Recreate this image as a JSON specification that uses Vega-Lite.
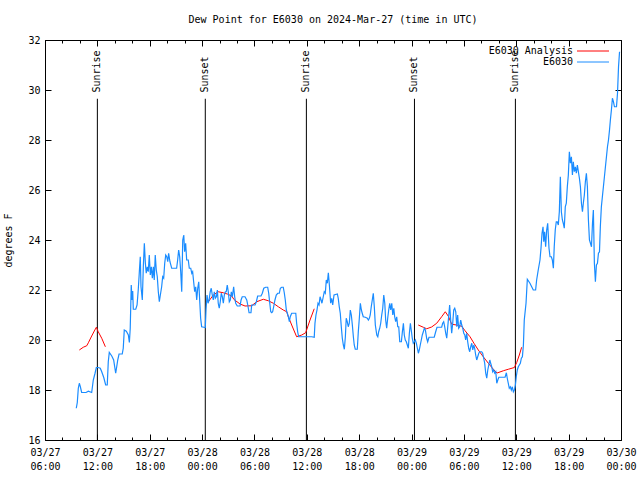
{
"$schema": "https://vega.github.io/schema/vega-lite/v6.json",
"width": 576, "height": 400,
"autosize": {"type": "none"},
"padding": {"left": 45, "top": 40, "right": 19, "bottom": 40},
"background": "white",
"title": {"text": "Dew Point for E6030 on 2024-Mar-27 (time in UTC)", "font": "DejaVu Sans Mono", "fontSize": 10, "fontWeight": "normal", "offset": 10, "anchor": "middle", "color": "black"},
"config": {
  "view": {"stroke": "black", "strokeWidth": 1},
  "font": "DejaVu Sans Mono",
  "axis": {"domain": false, "grid": false, "tickColor": "black", "labelColor": "black", "labelFont": "DejaVu Sans Mono", "labelFontSize": 10, "titleFont": "DejaVu Sans Mono", "titleFontSize": 10, "titleFontWeight": "normal", "titleColor": "black", "labelOverlap": false, "labelFlush": false},
  "legend": {"orient": "top-right", "offset": 6, "padding": 0, "symbolType": "M-4,0H4M5,0", "symbolSize": 64, "symbolStrokeWidth": 1, "labelFont": "DejaVu Sans Mono", "labelFontSize": 10, "labelColor": "black", "labelAlign": "right", "labelOffset": -25, "rowPadding": 1}
},
"datasets": {
"analysis": [
{"t":"2024-03-27T09:56:00Z","v":19.6,"s":"E6030 Analysis","seg":1},
{"t":"2024-03-27T10:23:00Z","v":19.71,"s":"E6030 Analysis","seg":1},
{"t":"2024-03-27T10:47:00Z","v":19.77,"s":"E6030 Analysis","seg":1},
{"t":"2024-03-27T10:58:00Z","v":19.89,"s":"E6030 Analysis","seg":1},
{"t":"2024-03-27T11:21:00Z","v":20.16,"s":"E6030 Analysis","seg":1},
{"t":"2024-03-27T11:39:00Z","v":20.36,"s":"E6030 Analysis","seg":1},
{"t":"2024-03-27T11:53:00Z","v":20.51,"s":"E6030 Analysis","seg":1},
{"t":"2024-03-27T12:06:00Z","v":20.33,"s":"E6030 Analysis","seg":1},
{"t":"2024-03-27T12:30:00Z","v":20.07,"s":"E6030 Analysis","seg":1},
{"t":"2024-03-27T12:55:00Z","v":19.73,"s":"E6030 Analysis","seg":1},
{"t":"2024-03-28T00:43:00Z","v":21.53,"s":"E6030 Analysis","seg":2},
{"t":"2024-03-28T01:17:00Z","v":21.8,"s":"E6030 Analysis","seg":2},
{"t":"2024-03-28T01:51:00Z","v":21.93,"s":"E6030 Analysis","seg":2},
{"t":"2024-03-28T02:26:00Z","v":21.89,"s":"E6030 Analysis","seg":2},
{"t":"2024-03-28T02:53:00Z","v":21.84,"s":"E6030 Analysis","seg":2},
{"t":"2024-03-28T03:24:00Z","v":21.76,"s":"E6030 Analysis","seg":2},
{"t":"2024-03-28T03:39:00Z","v":21.62,"s":"E6030 Analysis","seg":2},
{"t":"2024-03-28T04:21:00Z","v":21.44,"s":"E6030 Analysis","seg":2},
{"t":"2024-03-28T04:55:00Z","v":21.36,"s":"E6030 Analysis","seg":2},
{"t":"2024-03-28T05:41:00Z","v":21.37,"s":"E6030 Analysis","seg":2},
{"t":"2024-03-28T06:15:00Z","v":21.53,"s":"E6030 Analysis","seg":2},
{"t":"2024-03-28T07:01:00Z","v":21.63,"s":"E6030 Analysis","seg":2},
{"t":"2024-03-28T07:35:00Z","v":21.57,"s":"E6030 Analysis","seg":2},
{"t":"2024-03-28T08:10:00Z","v":21.47,"s":"E6030 Analysis","seg":2},
{"t":"2024-03-28T08:44:00Z","v":21.33,"s":"E6030 Analysis","seg":2},
{"t":"2024-03-28T09:18:00Z","v":21.2,"s":"E6030 Analysis","seg":2},
{"t":"2024-03-28T09:42:00Z","v":21.13,"s":"E6030 Analysis","seg":2},
{"t":"2024-03-28T09:53:00Z","v":20.93,"s":"E6030 Analysis","seg":2},
{"t":"2024-03-28T10:16:00Z","v":20.6,"s":"E6030 Analysis","seg":2},
{"t":"2024-03-28T10:50:00Z","v":20.13,"s":"E6030 Analysis","seg":2},
{"t":"2024-03-28T11:25:00Z","v":20.2,"s":"E6030 Analysis","seg":2},
{"t":"2024-03-28T11:52:00Z","v":20.29,"s":"E6030 Analysis","seg":2},
{"t":"2024-03-28T12:22:00Z","v":20.8,"s":"E6030 Analysis","seg":2},
{"t":"2024-03-28T12:51:00Z","v":21.25,"s":"E6030 Analysis","seg":2},
{"t":"2024-03-29T00:46:00Z","v":20.6,"s":"E6030 Analysis","seg":3},
{"t":"2024-03-29T01:21:00Z","v":20.51,"s":"E6030 Analysis","seg":3},
{"t":"2024-03-29T01:44:00Z","v":20.45,"s":"E6030 Analysis","seg":3},
{"t":"2024-03-29T02:18:00Z","v":20.52,"s":"E6030 Analysis","seg":3},
{"t":"2024-03-29T02:53:00Z","v":20.67,"s":"E6030 Analysis","seg":3},
{"t":"2024-03-29T03:27:00Z","v":20.93,"s":"E6030 Analysis","seg":3},
{"t":"2024-03-29T03:52:00Z","v":21.13,"s":"E6030 Analysis","seg":3},
{"t":"2024-03-29T04:13:00Z","v":20.95,"s":"E6030 Analysis","seg":3},
{"t":"2024-03-29T04:36:00Z","v":20.63,"s":"E6030 Analysis","seg":3},
{"t":"2024-03-29T05:10:00Z","v":20.6,"s":"E6030 Analysis","seg":3},
{"t":"2024-03-29T05:45:00Z","v":20.55,"s":"E6030 Analysis","seg":3},
{"t":"2024-03-29T06:08:00Z","v":20.37,"s":"E6030 Analysis","seg":3},
{"t":"2024-03-29T06:42:00Z","v":20.13,"s":"E6030 Analysis","seg":3},
{"t":"2024-03-29T07:09:00Z","v":19.87,"s":"E6030 Analysis","seg":3},
{"t":"2024-03-29T07:39:00Z","v":19.6,"s":"E6030 Analysis","seg":3},
{"t":"2024-03-29T08:13:00Z","v":19.33,"s":"E6030 Analysis","seg":3},
{"t":"2024-03-29T08:48:00Z","v":19.07,"s":"E6030 Analysis","seg":3},
{"t":"2024-03-29T09:22:00Z","v":18.83,"s":"E6030 Analysis","seg":3},
{"t":"2024-03-29T09:48:00Z","v":18.68,"s":"E6030 Analysis","seg":3},
{"t":"2024-03-29T10:31:00Z","v":18.77,"s":"E6030 Analysis","seg":3},
{"t":"2024-03-29T11:05:00Z","v":18.83,"s":"E6030 Analysis","seg":3},
{"t":"2024-03-29T11:47:00Z","v":18.9,"s":"E6030 Analysis","seg":3},
{"t":"2024-03-29T12:03:00Z","v":19.1,"s":"E6030 Analysis","seg":3},
{"t":"2024-03-29T12:21:00Z","v":19.4,"s":"E6030 Analysis","seg":3},
{"t":"2024-03-29T12:37:00Z","v":19.71,"s":"E6030 Analysis","seg":3}
],
"obs": [
{"t":"2024-03-27T09:35:00Z","v":17.27,"s":"E6030"},
{"t":"2024-03-27T09:42:00Z","v":17.5,"s":"E6030"},
{"t":"2024-03-27T09:49:00Z","v":18.07,"s":"E6030"},
{"t":"2024-03-27T09:56:00Z","v":18.27,"s":"E6030"},
{"t":"2024-03-27T10:03:00Z","v":18.13,"s":"E6030"},
{"t":"2024-03-27T10:12:00Z","v":17.9,"s":"E6030"},
{"t":"2024-03-27T10:42:00Z","v":17.9,"s":"E6030"},
{"t":"2024-03-27T10:58:00Z","v":17.95,"s":"E6030"},
{"t":"2024-03-27T11:21:00Z","v":17.9,"s":"E6030"},
{"t":"2024-03-27T11:32:00Z","v":18.4,"s":"E6030"},
{"t":"2024-03-27T11:44:00Z","v":18.67,"s":"E6030"},
{"t":"2024-03-27T11:53:00Z","v":18.9,"s":"E6030"},
{"t":"2024-03-27T12:06:00Z","v":18.9,"s":"E6030"},
{"t":"2024-03-27T12:20:00Z","v":18.87,"s":"E6030"},
{"t":"2024-03-27T12:30:00Z","v":18.73,"s":"E6030"},
{"t":"2024-03-27T12:44:00Z","v":18.5,"s":"E6030"},
{"t":"2024-03-27T12:57:00Z","v":18.2,"s":"E6030"},
{"t":"2024-03-27T13:08:00Z","v":18.2,"s":"E6030"},
{"t":"2024-03-27T13:15:00Z","v":19.13,"s":"E6030"},
{"t":"2024-03-27T13:22:00Z","v":19.5,"s":"E6030"},
{"t":"2024-03-27T13:39:00Z","v":19.36,"s":"E6030"},
{"t":"2024-03-27T13:52:00Z","v":19.2,"s":"E6030"},
{"t":"2024-03-27T14:06:00Z","v":18.67,"s":"E6030"},
{"t":"2024-03-27T14:13:00Z","v":18.93,"s":"E6030"},
{"t":"2024-03-27T14:20:00Z","v":19.2,"s":"E6030"},
{"t":"2024-03-27T14:29:00Z","v":19.44,"s":"E6030"},
{"t":"2024-03-27T14:51:00Z","v":19.44,"s":"E6030"},
{"t":"2024-03-27T14:58:00Z","v":19.67,"s":"E6030"},
{"t":"2024-03-27T15:05:00Z","v":20.4,"s":"E6030"},
{"t":"2024-03-27T15:19:00Z","v":20.35,"s":"E6030"},
{"t":"2024-03-27T15:33:00Z","v":20.2,"s":"E6030"},
{"t":"2024-03-27T15:40:00Z","v":19.9,"s":"E6030"},
{"t":"2024-03-27T15:46:00Z","v":20.47,"s":"E6030"},
{"t":"2024-03-27T15:53:00Z","v":22.2,"s":"E6030"},
{"t":"2024-03-27T15:58:00Z","v":21.6,"s":"E6030"},
{"t":"2024-03-27T16:03:00Z","v":21.96,"s":"E6030"},
{"t":"2024-03-27T16:07:00Z","v":21.23,"s":"E6030"},
{"t":"2024-03-27T16:24:00Z","v":21.23,"s":"E6030"},
{"t":"2024-03-27T16:33:00Z","v":21.4,"s":"E6030"},
{"t":"2024-03-27T16:41:00Z","v":22.0,"s":"E6030"},
{"t":"2024-03-27T16:48:00Z","v":22.67,"s":"E6030"},
{"t":"2024-03-27T16:55:00Z","v":23.33,"s":"E6030"},
{"t":"2024-03-27T17:00:00Z","v":22.13,"s":"E6030"},
{"t":"2024-03-27T17:09:00Z","v":21.6,"s":"E6030"},
{"t":"2024-03-27T17:16:00Z","v":22.93,"s":"E6030"},
{"t":"2024-03-27T17:23:00Z","v":23.87,"s":"E6030"},
{"t":"2024-03-27T17:30:00Z","v":23.07,"s":"E6030"},
{"t":"2024-03-27T17:36:00Z","v":22.67,"s":"E6030"},
{"t":"2024-03-27T17:43:00Z","v":22.93,"s":"E6030"},
{"t":"2024-03-27T17:50:00Z","v":22.73,"s":"E6030"},
{"t":"2024-03-27T17:57:00Z","v":23.4,"s":"E6030"},
{"t":"2024-03-27T18:04:00Z","v":22.6,"s":"E6030"},
{"t":"2024-03-27T18:11:00Z","v":22.93,"s":"E6030"},
{"t":"2024-03-27T18:18:00Z","v":22.47,"s":"E6030"},
{"t":"2024-03-27T18:25:00Z","v":22.93,"s":"E6030"},
{"t":"2024-03-27T18:31:00Z","v":22.4,"s":"E6030"},
{"t":"2024-03-27T18:38:00Z","v":23.4,"s":"E6030"},
{"t":"2024-03-27T18:45:00Z","v":22.8,"s":"E6030"},
{"t":"2024-03-27T18:52:00Z","v":22.53,"s":"E6030"},
{"t":"2024-03-27T18:59:00Z","v":21.93,"s":"E6030"},
{"t":"2024-03-27T19:06:00Z","v":21.53,"s":"E6030"},
{"t":"2024-03-27T19:13:00Z","v":21.8,"s":"E6030"},
{"t":"2024-03-27T19:22:00Z","v":22.13,"s":"E6030"},
{"t":"2024-03-27T19:29:00Z","v":22.53,"s":"E6030"},
{"t":"2024-03-27T19:36:00Z","v":22.47,"s":"E6030"},
{"t":"2024-03-27T19:43:00Z","v":23.07,"s":"E6030"},
{"t":"2024-03-27T19:50:00Z","v":23.4,"s":"E6030"},
{"t":"2024-03-27T19:57:00Z","v":23.33,"s":"E6030"},
{"t":"2024-03-27T20:04:00Z","v":23.13,"s":"E6030"},
{"t":"2024-03-27T20:10:00Z","v":23.47,"s":"E6030"},
{"t":"2024-03-27T20:19:00Z","v":23.13,"s":"E6030"},
{"t":"2024-03-27T20:31:00Z","v":22.87,"s":"E6030"},
{"t":"2024-03-27T21:05:00Z","v":22.87,"s":"E6030"},
{"t":"2024-03-27T21:12:00Z","v":23.2,"s":"E6030"},
{"t":"2024-03-27T21:19:00Z","v":23.6,"s":"E6030"},
{"t":"2024-03-27T21:26:00Z","v":23.33,"s":"E6030"},
{"t":"2024-03-27T21:33:00Z","v":22.73,"s":"E6030"},
{"t":"2024-03-27T21:40:00Z","v":21.93,"s":"E6030"},
{"t":"2024-03-27T21:47:00Z","v":24.0,"s":"E6030"},
{"t":"2024-03-27T21:54:00Z","v":24.2,"s":"E6030"},
{"t":"2024-03-27T22:00:00Z","v":23.53,"s":"E6030"},
{"t":"2024-03-27T22:07:00Z","v":23.87,"s":"E6030"},
{"t":"2024-03-27T22:14:00Z","v":23.2,"s":"E6030"},
{"t":"2024-03-27T22:25:00Z","v":23.2,"s":"E6030"},
{"t":"2024-03-27T22:32:00Z","v":22.87,"s":"E6030"},
{"t":"2024-03-27T22:42:00Z","v":22.87,"s":"E6030"},
{"t":"2024-03-27T22:49:00Z","v":22.67,"s":"E6030"},
{"t":"2024-03-27T22:55:00Z","v":22.73,"s":"E6030"},
{"t":"2024-03-27T23:02:00Z","v":22.33,"s":"E6030"},
{"t":"2024-03-27T23:09:00Z","v":21.93,"s":"E6030"},
{"t":"2024-03-27T23:16:00Z","v":22.13,"s":"E6030"},
{"t":"2024-03-27T23:23:00Z","v":21.6,"s":"E6030"},
{"t":"2024-03-27T23:30:00Z","v":22.07,"s":"E6030"},
{"t":"2024-03-27T23:37:00Z","v":22.33,"s":"E6030"},
{"t":"2024-03-27T23:44:00Z","v":21.53,"s":"E6030"},
{"t":"2024-03-27T23:50:00Z","v":20.87,"s":"E6030"},
{"t":"2024-03-27T23:57:00Z","v":20.53,"s":"E6030"},
{"t":"2024-03-28T00:13:00Z","v":20.51,"s":"E6030"},
{"t":"2024-03-28T00:22:00Z","v":20.5,"s":"E6030"},
{"t":"2024-03-28T00:27:00Z","v":21.2,"s":"E6030"},
{"t":"2024-03-28T00:34:00Z","v":21.8,"s":"E6030"},
{"t":"2024-03-28T00:41:00Z","v":21.47,"s":"E6030"},
{"t":"2024-03-28T00:48:00Z","v":21.6,"s":"E6030"},
{"t":"2024-03-28T00:56:00Z","v":21.93,"s":"E6030"},
{"t":"2024-03-28T01:03:00Z","v":22.07,"s":"E6030"},
{"t":"2024-03-28T01:10:00Z","v":21.8,"s":"E6030"},
{"t":"2024-03-28T01:17:00Z","v":21.6,"s":"E6030"},
{"t":"2024-03-28T01:24:00Z","v":21.93,"s":"E6030"},
{"t":"2024-03-28T01:31:00Z","v":21.67,"s":"E6030"},
{"t":"2024-03-28T01:38:00Z","v":21.73,"s":"E6030"},
{"t":"2024-03-28T01:45:00Z","v":22.0,"s":"E6030"},
{"t":"2024-03-28T01:51:00Z","v":21.47,"s":"E6030"},
{"t":"2024-03-28T01:58:00Z","v":21.27,"s":"E6030"},
{"t":"2024-03-28T02:05:00Z","v":21.53,"s":"E6030"},
{"t":"2024-03-28T02:12:00Z","v":21.87,"s":"E6030"},
{"t":"2024-03-28T02:19:00Z","v":21.73,"s":"E6030"},
{"t":"2024-03-28T02:26:00Z","v":21.47,"s":"E6030"},
{"t":"2024-03-28T02:33:00Z","v":21.8,"s":"E6030"},
{"t":"2024-03-28T02:40:00Z","v":21.93,"s":"E6030"},
{"t":"2024-03-28T02:46:00Z","v":21.93,"s":"E6030"},
{"t":"2024-03-28T02:53:00Z","v":22.2,"s":"E6030"},
{"t":"2024-03-28T03:00:00Z","v":21.93,"s":"E6030"},
{"t":"2024-03-28T03:07:00Z","v":21.53,"s":"E6030"},
{"t":"2024-03-28T03:14:00Z","v":21.6,"s":"E6030"},
{"t":"2024-03-28T03:21:00Z","v":21.93,"s":"E6030"},
{"t":"2024-03-28T03:28:00Z","v":21.73,"s":"E6030"},
{"t":"2024-03-28T03:37:00Z","v":22.13,"s":"E6030"},
{"t":"2024-03-28T03:44:00Z","v":21.73,"s":"E6030"},
{"t":"2024-03-28T03:51:00Z","v":21.47,"s":"E6030"},
{"t":"2024-03-28T04:02:00Z","v":21.36,"s":"E6030"},
{"t":"2024-03-28T04:21:00Z","v":21.36,"s":"E6030"},
{"t":"2024-03-28T04:28:00Z","v":21.6,"s":"E6030"},
{"t":"2024-03-28T04:36:00Z","v":21.73,"s":"E6030"},
{"t":"2024-03-28T04:55:00Z","v":21.73,"s":"E6030"},
{"t":"2024-03-28T05:07:00Z","v":21.6,"s":"E6030"},
{"t":"2024-03-28T05:14:00Z","v":21.4,"s":"E6030"},
{"t":"2024-03-28T05:23:00Z","v":21.09,"s":"E6030"},
{"t":"2024-03-28T05:36:00Z","v":21.09,"s":"E6030"},
{"t":"2024-03-28T05:41:00Z","v":21.4,"s":"E6030"},
{"t":"2024-03-28T06:04:00Z","v":21.4,"s":"E6030"},
{"t":"2024-03-28T06:13:00Z","v":21.53,"s":"E6030"},
{"t":"2024-03-28T06:22:00Z","v":21.76,"s":"E6030"},
{"t":"2024-03-28T06:45:00Z","v":21.76,"s":"E6030"},
{"t":"2024-03-28T06:54:00Z","v":21.87,"s":"E6030"},
{"t":"2024-03-28T07:04:00Z","v":22.07,"s":"E6030"},
{"t":"2024-03-28T07:17:00Z","v":22.11,"s":"E6030"},
{"t":"2024-03-28T07:31:00Z","v":22.11,"s":"E6030"},
{"t":"2024-03-28T07:38:00Z","v":21.87,"s":"E6030"},
{"t":"2024-03-28T07:45:00Z","v":21.49,"s":"E6030"},
{"t":"2024-03-28T07:52:00Z","v":21.13,"s":"E6030"},
{"t":"2024-03-28T07:59:00Z","v":21.09,"s":"E6030"},
{"t":"2024-03-28T08:05:00Z","v":21.13,"s":"E6030"},
{"t":"2024-03-28T08:12:00Z","v":21.33,"s":"E6030"},
{"t":"2024-03-28T08:21:00Z","v":21.6,"s":"E6030"},
{"t":"2024-03-28T08:30:00Z","v":21.8,"s":"E6030"},
{"t":"2024-03-28T08:40:00Z","v":21.87,"s":"E6030"},
{"t":"2024-03-28T08:51:00Z","v":21.87,"s":"E6030"},
{"t":"2024-03-28T08:58:00Z","v":22.07,"s":"E6030"},
{"t":"2024-03-28T09:07:00Z","v":22.11,"s":"E6030"},
{"t":"2024-03-28T09:18:00Z","v":22.11,"s":"E6030"},
{"t":"2024-03-28T09:25:00Z","v":21.89,"s":"E6030"},
{"t":"2024-03-28T09:32:00Z","v":21.6,"s":"E6030"},
{"t":"2024-03-28T09:39:00Z","v":21.2,"s":"E6030"},
{"t":"2024-03-28T09:46:00Z","v":21.07,"s":"E6030"},
{"t":"2024-03-28T09:53:00Z","v":20.93,"s":"E6030"},
{"t":"2024-03-28T10:00:00Z","v":20.73,"s":"E6030"},
{"t":"2024-03-28T10:06:00Z","v":20.93,"s":"E6030"},
{"t":"2024-03-28T10:16:00Z","v":21.07,"s":"E6030"},
{"t":"2024-03-28T10:44:00Z","v":21.07,"s":"E6030"},
{"t":"2024-03-28T10:50:00Z","v":20.67,"s":"E6030"},
{"t":"2024-03-28T10:57:00Z","v":20.33,"s":"E6030"},
{"t":"2024-03-28T11:04:00Z","v":20.13,"s":"E6030"},
{"t":"2024-03-28T12:34:00Z","v":20.13,"s":"E6030"},
{"t":"2024-03-28T12:51:00Z","v":20.11,"s":"E6030"},
{"t":"2024-03-28T12:56:00Z","v":20.67,"s":"E6030"},
{"t":"2024-03-28T13:03:00Z","v":21.0,"s":"E6030"},
{"t":"2024-03-28T13:10:00Z","v":21.2,"s":"E6030"},
{"t":"2024-03-28T13:17:00Z","v":21.47,"s":"E6030"},
{"t":"2024-03-28T13:24:00Z","v":21.4,"s":"E6030"},
{"t":"2024-03-28T13:31:00Z","v":21.73,"s":"E6030"},
{"t":"2024-03-28T13:38:00Z","v":21.6,"s":"E6030"},
{"t":"2024-03-28T13:44:00Z","v":21.47,"s":"E6030"},
{"t":"2024-03-28T13:51:00Z","v":21.67,"s":"E6030"},
{"t":"2024-03-28T14:00:00Z","v":21.93,"s":"E6030"},
{"t":"2024-03-28T14:07:00Z","v":21.87,"s":"E6030"},
{"t":"2024-03-28T14:14:00Z","v":22.4,"s":"E6030"},
{"t":"2024-03-28T14:21:00Z","v":22.27,"s":"E6030"},
{"t":"2024-03-28T14:28:00Z","v":22.69,"s":"E6030"},
{"t":"2024-03-28T14:35:00Z","v":22.2,"s":"E6030"},
{"t":"2024-03-28T14:44:00Z","v":21.47,"s":"E6030"},
{"t":"2024-03-28T14:51:00Z","v":21.67,"s":"E6030"},
{"t":"2024-03-28T14:58:00Z","v":21.4,"s":"E6030"},
{"t":"2024-03-28T15:07:00Z","v":21.8,"s":"E6030"},
{"t":"2024-03-28T15:30:00Z","v":21.84,"s":"E6030"},
{"t":"2024-03-28T15:36:00Z","v":21.67,"s":"E6030"},
{"t":"2024-03-28T15:43:00Z","v":21.33,"s":"E6030"},
{"t":"2024-03-28T15:50:00Z","v":21.07,"s":"E6030"},
{"t":"2024-03-28T15:57:00Z","v":20.53,"s":"E6030"},
{"t":"2024-03-28T16:04:00Z","v":20.07,"s":"E6030"},
{"t":"2024-03-28T16:11:00Z","v":19.8,"s":"E6030"},
{"t":"2024-03-28T16:18:00Z","v":19.63,"s":"E6030"},
{"t":"2024-03-28T16:25:00Z","v":20.13,"s":"E6030"},
{"t":"2024-03-28T16:31:00Z","v":20.87,"s":"E6030"},
{"t":"2024-03-28T16:38:00Z","v":20.73,"s":"E6030"},
{"t":"2024-03-28T16:45:00Z","v":20.53,"s":"E6030"},
{"t":"2024-03-28T16:52:00Z","v":20.67,"s":"E6030"},
{"t":"2024-03-28T16:59:00Z","v":21.2,"s":"E6030"},
{"t":"2024-03-28T17:06:00Z","v":21.0,"s":"E6030"},
{"t":"2024-03-28T17:13:00Z","v":20.6,"s":"E6030"},
{"t":"2024-03-28T17:20:00Z","v":20.13,"s":"E6030"},
{"t":"2024-03-28T17:26:00Z","v":19.8,"s":"E6030"},
{"t":"2024-03-28T17:33:00Z","v":19.63,"s":"E6030"},
{"t":"2024-03-28T17:47:00Z","v":19.63,"s":"E6030"},
{"t":"2024-03-28T17:54:00Z","v":20.33,"s":"E6030"},
{"t":"2024-03-28T18:01:00Z","v":20.87,"s":"E6030"},
{"t":"2024-03-28T18:08:00Z","v":21.47,"s":"E6030"},
{"t":"2024-03-28T18:15:00Z","v":21.2,"s":"E6030"},
{"t":"2024-03-28T18:21:00Z","v":21.07,"s":"E6030"},
{"t":"2024-03-28T18:28:00Z","v":20.93,"s":"E6030"},
{"t":"2024-03-28T18:42:00Z","v":20.91,"s":"E6030"},
{"t":"2024-03-28T18:56:00Z","v":20.87,"s":"E6030"},
{"t":"2024-03-28T19:03:00Z","v":20.8,"s":"E6030"},
{"t":"2024-03-28T19:10:00Z","v":20.87,"s":"E6030"},
{"t":"2024-03-28T19:16:00Z","v":21.0,"s":"E6030"},
{"t":"2024-03-28T19:23:00Z","v":21.33,"s":"E6030"},
{"t":"2024-03-28T19:30:00Z","v":21.6,"s":"E6030"},
{"t":"2024-03-28T19:37:00Z","v":21.87,"s":"E6030"},
{"t":"2024-03-28T19:44:00Z","v":21.33,"s":"E6030"},
{"t":"2024-03-28T19:51:00Z","v":20.6,"s":"E6030"},
{"t":"2024-03-28T20:01:00Z","v":20.2,"s":"E6030"},
{"t":"2024-03-28T20:08:00Z","v":20.13,"s":"E6030"},
{"t":"2024-03-28T20:14:00Z","v":20.33,"s":"E6030"},
{"t":"2024-03-28T20:21:00Z","v":20.47,"s":"E6030"},
{"t":"2024-03-28T20:28:00Z","v":20.67,"s":"E6030"},
{"t":"2024-03-28T20:35:00Z","v":21.0,"s":"E6030"},
{"t":"2024-03-28T20:42:00Z","v":21.27,"s":"E6030"},
{"t":"2024-03-28T20:49:00Z","v":21.8,"s":"E6030"},
{"t":"2024-03-28T20:56:00Z","v":21.47,"s":"E6030"},
{"t":"2024-03-28T21:02:00Z","v":20.8,"s":"E6030"},
{"t":"2024-03-28T21:09:00Z","v":20.47,"s":"E6030"},
{"t":"2024-03-28T21:16:00Z","v":20.87,"s":"E6030"},
{"t":"2024-03-28T21:23:00Z","v":21.2,"s":"E6030"},
{"t":"2024-03-28T21:30:00Z","v":21.47,"s":"E6030"},
{"t":"2024-03-28T21:37:00Z","v":21.2,"s":"E6030"},
{"t":"2024-03-28T21:44:00Z","v":21.47,"s":"E6030"},
{"t":"2024-03-28T21:51:00Z","v":21.0,"s":"E6030"},
{"t":"2024-03-28T21:58:00Z","v":21.27,"s":"E6030"},
{"t":"2024-03-28T22:04:00Z","v":20.93,"s":"E6030"},
{"t":"2024-03-28T22:11:00Z","v":20.73,"s":"E6030"},
{"t":"2024-03-28T22:18:00Z","v":20.93,"s":"E6030"},
{"t":"2024-03-28T22:25:00Z","v":20.53,"s":"E6030"},
{"t":"2024-03-28T22:32:00Z","v":20.53,"s":"E6030"},
{"t":"2024-03-28T22:39:00Z","v":19.93,"s":"E6030"},
{"t":"2024-03-28T22:50:00Z","v":19.93,"s":"E6030"},
{"t":"2024-03-28T22:57:00Z","v":20.33,"s":"E6030"},
{"t":"2024-03-28T23:04:00Z","v":20.67,"s":"E6030"},
{"t":"2024-03-28T23:10:00Z","v":20.2,"s":"E6030"},
{"t":"2024-03-28T23:17:00Z","v":20.0,"s":"E6030"},
{"t":"2024-03-28T23:24:00Z","v":19.93,"s":"E6030"},
{"t":"2024-03-28T23:31:00Z","v":19.8,"s":"E6030"},
{"t":"2024-03-28T23:38:00Z","v":19.67,"s":"E6030"},
{"t":"2024-03-28T23:45:00Z","v":20.27,"s":"E6030"},
{"t":"2024-03-28T23:52:00Z","v":20.67,"s":"E6030"},
{"t":"2024-03-28T23:58:00Z","v":20.4,"s":"E6030"},
{"t":"2024-03-29T00:05:00Z","v":20.07,"s":"E6030"},
{"t":"2024-03-29T00:12:00Z","v":19.87,"s":"E6030"},
{"t":"2024-03-29T00:19:00Z","v":19.93,"s":"E6030"},
{"t":"2024-03-29T00:26:00Z","v":20.0,"s":"E6030"},
{"t":"2024-03-29T00:33:00Z","v":19.87,"s":"E6030"},
{"t":"2024-03-29T00:40:00Z","v":19.67,"s":"E6030"},
{"t":"2024-03-29T00:47:00Z","v":19.47,"s":"E6030"},
{"t":"2024-03-29T00:53:00Z","v":19.6,"s":"E6030"},
{"t":"2024-03-29T01:00:00Z","v":19.8,"s":"E6030"},
{"t":"2024-03-29T01:07:00Z","v":20.0,"s":"E6030"},
{"t":"2024-03-29T01:14:00Z","v":20.2,"s":"E6030"},
{"t":"2024-03-29T01:21:00Z","v":20.33,"s":"E6030"},
{"t":"2024-03-29T01:28:00Z","v":20.47,"s":"E6030"},
{"t":"2024-03-29T01:35:00Z","v":20.4,"s":"E6030"},
{"t":"2024-03-29T01:44:00Z","v":20.07,"s":"E6030"},
{"t":"2024-03-29T01:51:00Z","v":19.93,"s":"E6030"},
{"t":"2024-03-29T02:00:00Z","v":20.11,"s":"E6030"},
{"t":"2024-03-29T02:36:00Z","v":20.11,"s":"E6030"},
{"t":"2024-03-29T02:46:00Z","v":20.33,"s":"E6030"},
{"t":"2024-03-29T02:55:00Z","v":20.51,"s":"E6030"},
{"t":"2024-03-29T03:27:00Z","v":20.51,"s":"E6030"},
{"t":"2024-03-29T03:34:00Z","v":20.67,"s":"E6030"},
{"t":"2024-03-29T03:41:00Z","v":20.73,"s":"E6030"},
{"t":"2024-03-29T03:48:00Z","v":20.53,"s":"E6030"},
{"t":"2024-03-29T03:55:00Z","v":20.27,"s":"E6030"},
{"t":"2024-03-29T04:02:00Z","v":20.07,"s":"E6030"},
{"t":"2024-03-29T04:09:00Z","v":20.53,"s":"E6030"},
{"t":"2024-03-29T04:15:00Z","v":20.93,"s":"E6030"},
{"t":"2024-03-29T04:22:00Z","v":21.4,"s":"E6030"},
{"t":"2024-03-29T04:29:00Z","v":20.8,"s":"E6030"},
{"t":"2024-03-29T04:36:00Z","v":20.27,"s":"E6030"},
{"t":"2024-03-29T04:43:00Z","v":20.67,"s":"E6030"},
{"t":"2024-03-29T04:50:00Z","v":21.2,"s":"E6030"},
{"t":"2024-03-29T04:57:00Z","v":21.27,"s":"E6030"},
{"t":"2024-03-29T05:04:00Z","v":21.13,"s":"E6030"},
{"t":"2024-03-29T05:11:00Z","v":20.53,"s":"E6030"},
{"t":"2024-03-29T05:17:00Z","v":21.0,"s":"E6030"},
{"t":"2024-03-29T05:24:00Z","v":20.47,"s":"E6030"},
{"t":"2024-03-29T05:31:00Z","v":20.53,"s":"E6030"},
{"t":"2024-03-29T05:38:00Z","v":20.8,"s":"E6030"},
{"t":"2024-03-29T05:45:00Z","v":20.6,"s":"E6030"},
{"t":"2024-03-29T05:52:00Z","v":20.47,"s":"E6030"},
{"t":"2024-03-29T05:59:00Z","v":20.27,"s":"E6030"},
{"t":"2024-03-29T06:06:00Z","v":20.2,"s":"E6030"},
{"t":"2024-03-29T06:12:00Z","v":20.0,"s":"E6030"},
{"t":"2024-03-29T06:19:00Z","v":20.27,"s":"E6030"},
{"t":"2024-03-29T06:26:00Z","v":19.93,"s":"E6030"},
{"t":"2024-03-29T06:33:00Z","v":19.67,"s":"E6030"},
{"t":"2024-03-29T06:40:00Z","v":19.53,"s":"E6030"},
{"t":"2024-03-29T06:47:00Z","v":19.73,"s":"E6030"},
{"t":"2024-03-29T06:54:00Z","v":19.87,"s":"E6030"},
{"t":"2024-03-29T07:01:00Z","v":19.6,"s":"E6030"},
{"t":"2024-03-29T07:08:00Z","v":19.8,"s":"E6030"},
{"t":"2024-03-29T07:14:00Z","v":19.67,"s":"E6030"},
{"t":"2024-03-29T07:21:00Z","v":19.4,"s":"E6030"},
{"t":"2024-03-29T07:28:00Z","v":19.2,"s":"E6030"},
{"t":"2024-03-29T07:35:00Z","v":19.33,"s":"E6030"},
{"t":"2024-03-29T07:42:00Z","v":19.47,"s":"E6030"},
{"t":"2024-03-29T07:49:00Z","v":19.53,"s":"E6030"},
{"t":"2024-03-29T08:02:00Z","v":19.53,"s":"E6030"},
{"t":"2024-03-29T08:09:00Z","v":19.47,"s":"E6030"},
{"t":"2024-03-29T08:16:00Z","v":19.27,"s":"E6030"},
{"t":"2024-03-29T08:23:00Z","v":19.07,"s":"E6030"},
{"t":"2024-03-29T08:30:00Z","v":18.67,"s":"E6030"},
{"t":"2024-03-29T08:37:00Z","v":18.47,"s":"E6030"},
{"t":"2024-03-29T08:44:00Z","v":18.8,"s":"E6030"},
{"t":"2024-03-29T08:51:00Z","v":19.0,"s":"E6030"},
{"t":"2024-03-29T08:58:00Z","v":19.2,"s":"E6030"},
{"t":"2024-03-29T09:04:00Z","v":19.07,"s":"E6030"},
{"t":"2024-03-29T09:11:00Z","v":18.93,"s":"E6030"},
{"t":"2024-03-29T09:18:00Z","v":18.73,"s":"E6030"},
{"t":"2024-03-29T09:25:00Z","v":18.8,"s":"E6030"},
{"t":"2024-03-29T09:32:00Z","v":18.67,"s":"E6030"},
{"t":"2024-03-29T09:39:00Z","v":18.73,"s":"E6030"},
{"t":"2024-03-29T09:46:00Z","v":18.27,"s":"E6030"},
{"t":"2024-03-29T09:53:00Z","v":18.4,"s":"E6030"},
{"t":"2024-03-29T10:00:00Z","v":18.51,"s":"E6030"},
{"t":"2024-03-29T10:43:00Z","v":18.51,"s":"E6030"},
{"t":"2024-03-29T10:52:00Z","v":18.69,"s":"E6030"},
{"t":"2024-03-29T10:58:00Z","v":18.47,"s":"E6030"},
{"t":"2024-03-29T11:05:00Z","v":18.27,"s":"E6030"},
{"t":"2024-03-29T11:12:00Z","v":18.07,"s":"E6030"},
{"t":"2024-03-29T11:19:00Z","v":18.13,"s":"E6030"},
{"t":"2024-03-29T11:26:00Z","v":18.0,"s":"E6030"},
{"t":"2024-03-29T11:33:00Z","v":18.13,"s":"E6030"},
{"t":"2024-03-29T11:40:00Z","v":17.93,"s":"E6030"},
{"t":"2024-03-29T11:47:00Z","v":18.0,"s":"E6030"},
{"t":"2024-03-29T11:54:00Z","v":18.2,"s":"E6030"},
{"t":"2024-03-29T12:00:00Z","v":18.53,"s":"E6030"},
{"t":"2024-03-29T12:07:00Z","v":18.8,"s":"E6030"},
{"t":"2024-03-29T12:14:00Z","v":18.93,"s":"E6030"},
{"t":"2024-03-29T12:21:00Z","v":19.0,"s":"E6030"},
{"t":"2024-03-29T12:28:00Z","v":19.07,"s":"E6030"},
{"t":"2024-03-29T12:35:00Z","v":19.27,"s":"E6030"},
{"t":"2024-03-29T12:42:00Z","v":19.33,"s":"E6030"},
{"t":"2024-03-29T12:49:00Z","v":19.8,"s":"E6030"},
{"t":"2024-03-29T12:55:00Z","v":20.8,"s":"E6030"},
{"t":"2024-03-29T13:07:00Z","v":21.47,"s":"E6030"},
{"t":"2024-03-29T13:16:00Z","v":22.43,"s":"E6030"},
{"t":"2024-03-29T13:34:00Z","v":22.27,"s":"E6030"},
{"t":"2024-03-29T13:46:00Z","v":22.13,"s":"E6030"},
{"t":"2024-03-29T13:57:00Z","v":22.0,"s":"E6030"},
{"t":"2024-03-29T14:13:00Z","v":22.0,"s":"E6030"},
{"t":"2024-03-29T14:20:00Z","v":22.4,"s":"E6030"},
{"t":"2024-03-29T14:31:00Z","v":22.8,"s":"E6030"},
{"t":"2024-03-29T14:43:00Z","v":23.2,"s":"E6030"},
{"t":"2024-03-29T14:50:00Z","v":23.67,"s":"E6030"},
{"t":"2024-03-29T14:57:00Z","v":24.27,"s":"E6030"},
{"t":"2024-03-29T15:04:00Z","v":24.53,"s":"E6030"},
{"t":"2024-03-29T15:09:00Z","v":23.93,"s":"E6030"},
{"t":"2024-03-29T15:15:00Z","v":24.33,"s":"E6030"},
{"t":"2024-03-29T15:22:00Z","v":23.73,"s":"E6030"},
{"t":"2024-03-29T15:29:00Z","v":24.4,"s":"E6030"},
{"t":"2024-03-29T15:36:00Z","v":24.67,"s":"E6030"},
{"t":"2024-03-29T15:45:00Z","v":23.67,"s":"E6030"},
{"t":"2024-03-29T15:52:00Z","v":23.33,"s":"E6030"},
{"t":"2024-03-29T16:01:00Z","v":23.33,"s":"E6030"},
{"t":"2024-03-29T16:08:00Z","v":23.2,"s":"E6030"},
{"t":"2024-03-29T16:15:00Z","v":22.87,"s":"E6030"},
{"t":"2024-03-29T16:21:00Z","v":23.73,"s":"E6030"},
{"t":"2024-03-29T16:28:00Z","v":24.4,"s":"E6030"},
{"t":"2024-03-29T16:35:00Z","v":24.73,"s":"E6030"},
{"t":"2024-03-29T16:42:00Z","v":24.73,"s":"E6030"},
{"t":"2024-03-29T16:49:00Z","v":24.6,"s":"E6030"},
{"t":"2024-03-29T16:56:00Z","v":25.13,"s":"E6030"},
{"t":"2024-03-29T17:03:00Z","v":26.53,"s":"E6030"},
{"t":"2024-03-29T17:10:00Z","v":25.13,"s":"E6030"},
{"t":"2024-03-29T17:17:00Z","v":24.8,"s":"E6030"},
{"t":"2024-03-29T17:23:00Z","v":24.67,"s":"E6030"},
{"t":"2024-03-29T17:30:00Z","v":24.47,"s":"E6030"},
{"t":"2024-03-29T17:37:00Z","v":25.33,"s":"E6030"},
{"t":"2024-03-29T17:44:00Z","v":25.47,"s":"E6030"},
{"t":"2024-03-29T17:51:00Z","v":26.13,"s":"E6030"},
{"t":"2024-03-29T17:58:00Z","v":26.6,"s":"E6030"},
{"t":"2024-03-29T18:05:00Z","v":27.53,"s":"E6030"},
{"t":"2024-03-29T18:12:00Z","v":27.07,"s":"E6030"},
{"t":"2024-03-29T18:19:00Z","v":27.33,"s":"E6030"},
{"t":"2024-03-29T18:26:00Z","v":26.6,"s":"E6030"},
{"t":"2024-03-29T18:32:00Z","v":27.13,"s":"E6030"},
{"t":"2024-03-29T18:39:00Z","v":26.73,"s":"E6030"},
{"t":"2024-03-29T18:46:00Z","v":26.93,"s":"E6030"},
{"t":"2024-03-29T18:53:00Z","v":26.67,"s":"E6030"},
{"t":"2024-03-29T19:00:00Z","v":27.0,"s":"E6030"},
{"t":"2024-03-29T19:07:00Z","v":26.73,"s":"E6030"},
{"t":"2024-03-29T19:14:00Z","v":26.47,"s":"E6030"},
{"t":"2024-03-29T19:21:00Z","v":26.13,"s":"E6030"},
{"t":"2024-03-29T19:28:00Z","v":25.47,"s":"E6030"},
{"t":"2024-03-29T19:35:00Z","v":25.13,"s":"E6030"},
{"t":"2024-03-29T19:41:00Z","v":25.47,"s":"E6030"},
{"t":"2024-03-29T19:48:00Z","v":25.8,"s":"E6030"},
{"t":"2024-03-29T19:55:00Z","v":26.33,"s":"E6030"},
{"t":"2024-03-29T20:02:00Z","v":26.67,"s":"E6030"},
{"t":"2024-03-29T20:09:00Z","v":26.13,"s":"E6030"},
{"t":"2024-03-29T20:16:00Z","v":24.8,"s":"E6030"},
{"t":"2024-03-29T20:23:00Z","v":24.0,"s":"E6030"},
{"t":"2024-03-29T20:30:00Z","v":23.87,"s":"E6030"},
{"t":"2024-03-29T20:37:00Z","v":23.73,"s":"E6030"},
{"t":"2024-03-29T20:44:00Z","v":24.67,"s":"E6030"},
{"t":"2024-03-29T20:50:00Z","v":25.2,"s":"E6030"},
{"t":"2024-03-29T20:57:00Z","v":23.07,"s":"E6030"},
{"t":"2024-03-29T21:04:00Z","v":22.33,"s":"E6030"},
{"t":"2024-03-29T21:11:00Z","v":23.0,"s":"E6030"},
{"t":"2024-03-29T21:18:00Z","v":23.07,"s":"E6030"},
{"t":"2024-03-29T21:25:00Z","v":23.47,"s":"E6030"},
{"t":"2024-03-29T21:32:00Z","v":23.53,"s":"E6030"},
{"t":"2024-03-29T21:38:00Z","v":24.53,"s":"E6030"},
{"t":"2024-03-29T21:45:00Z","v":25.33,"s":"E6030"},
{"t":"2024-03-29T21:52:00Z","v":25.73,"s":"E6030"},
{"t":"2024-03-29T21:59:00Z","v":26.13,"s":"E6030"},
{"t":"2024-03-29T22:06:00Z","v":26.53,"s":"E6030"},
{"t":"2024-03-29T22:13:00Z","v":26.93,"s":"E6030"},
{"t":"2024-03-29T22:20:00Z","v":27.33,"s":"E6030"},
{"t":"2024-03-29T22:27:00Z","v":27.73,"s":"E6030"},
{"t":"2024-03-29T22:34:00Z","v":28.0,"s":"E6030"},
{"t":"2024-03-29T22:41:00Z","v":28.4,"s":"E6030"},
{"t":"2024-03-29T22:47:00Z","v":28.8,"s":"E6030"},
{"t":"2024-03-29T22:54:00Z","v":29.2,"s":"E6030"},
{"t":"2024-03-29T23:01:00Z","v":29.67,"s":"E6030"},
{"t":"2024-03-29T23:08:00Z","v":29.53,"s":"E6030"},
{"t":"2024-03-29T23:15:00Z","v":29.33,"s":"E6030"},
{"t":"2024-03-29T23:29:00Z","v":29.33,"s":"E6030"},
{"t":"2024-03-29T23:36:00Z","v":29.87,"s":"E6030"},
{"t":"2024-03-29T23:43:00Z","v":30.93,"s":"E6030"},
{"t":"2024-03-29T23:50:00Z","v":31.53,"s":"E6030"}
],
"sun": [
{"t":"2024-03-27T12:00:00Z","label":"Sunrise"},
{"t":"2024-03-28T00:22:00Z","label":"Sunset"},
{"t":"2024-03-28T11:57:00Z","label":"Sunrise"},
{"t":"2024-03-29T00:20:00Z","label":"Sunset"},
{"t":"2024-03-29T11:54:00Z","label":"Sunrise"}
]
},
"resolve": {"axis": {"x": "independent", "y": "independent"}},
"layer": [
{"data": {"name": "sun"},
 "mark": {"type": "rule", "color": "black", "strokeWidth": 1},
 "encoding": {
  "x": {"field": "t", "type": "temporal", "scale": {"type": "utc", "domain": [1711519200000, 1711756800000], "nice": false},
        "axis": {"orient": "bottom", "labels": false, "title": null, "values": [1711519200000,1711526400000,1711533600000,1711540800000,1711548000000,1711555200000,1711562400000,1711569600000,1711576800000,1711584000000,1711591200000,1711598400000,1711605600000,1711612800000,1711620000000,1711627200000,1711634400000,1711641600000,1711648800000,1711656000000,1711663200000,1711670400000,1711677600000,1711684800000,1711692000000,1711699200000,1711706400000,1711713600000,1711720800000,1711728000000,1711735200000,1711742400000,1711749600000,1711756800000], "tickSize": -3}},
  "y": {"datum": 16, "type": "quantitative", "scale": {"domain": [16, 32], "nice": false}, "axis": null},
  "y2": {"datum": 29.65}
 }},
{"data": {"name": "sun"},
 "mark": {"type": "text", "angle": 270, "align": "left", "baseline": "middle", "font": "DejaVu Sans Mono", "fontSize": 10, "color": "black"},
 "encoding": {
  "x": {"field": "t", "type": "temporal", "scale": {"type": "utc", "domain": [1711519200000, 1711756800000], "nice": false},
        "axis": {"orient": "top", "labels": false, "title": null, "values": [1711519200000,1711526400000,1711533600000,1711540800000,1711548000000,1711555200000,1711562400000,1711569600000,1711576800000,1711584000000,1711591200000,1711598400000,1711605600000,1711612800000,1711620000000,1711627200000,1711634400000,1711641600000,1711648800000,1711656000000,1711663200000,1711670400000,1711677600000,1711684800000,1711692000000,1711699200000,1711706400000,1711713600000,1711720800000,1711728000000,1711735200000,1711742400000,1711749600000,1711756800000], "tickSize": -3}},
  "y": {"datum": 29.9, "type": "quantitative", "axis": null},
  "text": {"field": "label"}
 }},
{"data": {"name": "analysis"},
 "mark": {"type": "line", "strokeWidth": 1, "clip": true},
 "encoding": {
  "x": {"field": "t", "type": "temporal", "scale": {"type": "utc", "domain": [1711519200000, 1711756800000], "nice": false},
        "axis": {"orient": "top", "labels": false, "title": null, "values": [1711519200000,1711540800000,1711562400000,1711584000000,1711605600000,1711627200000,1711648800000,1711670400000,1711692000000,1711713600000,1711735200000,1711756800000], "tickSize": -6}},
  "y": {"field": "v", "type": "quantitative", "axis": {"orient": "right", "labels": false, "title": null, "values": [16,18,20,22,24,26,28,30,32], "tickSize": -6}},
  "color": {"field": "s", "type": "nominal", "scale": {"domain": ["E6030 Analysis", "E6030"], "range": ["#ff0000", "#1a8cff"]}, "legend": {"title": null}},
  "detail": {"field": "seg", "type": "nominal"}
 }},
{"data": {"name": "obs"},
 "mark": {"type": "line", "strokeWidth": 1.2, "clip": true},
 "encoding": {
  "x": {"field": "t", "type": "temporal", "scale": {"type": "utc", "domain": [1711519200000, 1711756800000], "nice": false},
        "axis": {"orient": "bottom", "title": null, "values": [1711519200000,1711540800000,1711562400000,1711584000000,1711605600000,1711627200000,1711648800000,1711670400000,1711692000000,1711713600000,1711735200000,1711756800000], "tickSize": -6, "labelPadding": 13, "labelLineHeight": 14,
                 "labelExpr": "[utcFormat(datum.value, '%m/%d'), utcFormat(datum.value, '%H:%M')]"}},
  "y": {"field": "v", "type": "quantitative", "axis": {"orient": "left", "title": "degrees F", "values": [16,18,20,22,24,26,28,30,32], "tickSize": -6, "labelPadding": 11, "titlePadding": 14}},
  "color": {"field": "s", "type": "nominal"}
 }}
]
}
